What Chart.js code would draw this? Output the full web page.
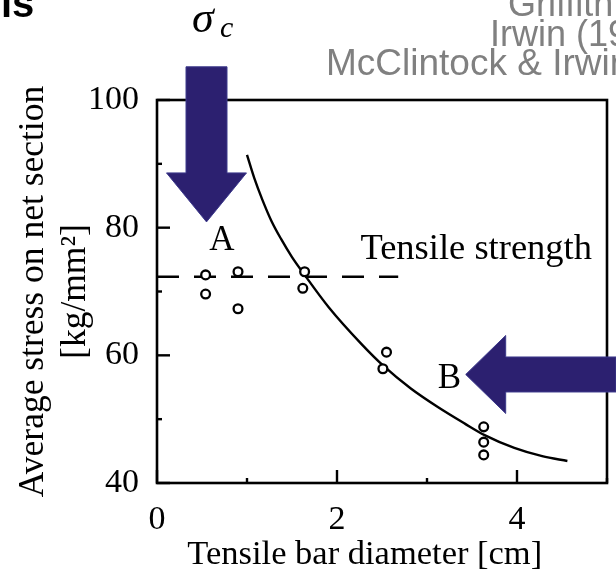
<!DOCTYPE html>
<html>
<head>
<meta charset="utf-8">
<script src="https://cdn.jsdelivr.net/npm/chart.js@4"></script>
<style>
  html, body { margin: 0; padding: 0; background: #ffffff; }
  #wrap { width: 616px; height: 582px; }
</style>
</head>
<body>
<div id="wrap"><canvas id="c" width="616" height="582"></canvas></div>
<script>
// ---- data ----
const pointX = [0.54, 0.54, 0.90, 0.90, 1.64, 1.62, 2.55, 2.51, 3.63, 3.63, 3.63];
const pointY = [72.6, 69.6, 73.1, 67.3, 73.1, 70.5, 60.5, 57.9, 48.8, 46.4, 44.4];
const curveX = [1.00, 1.08, 1.17, 1.27, 1.38, 1.50, 1.63, 1.91, 2.27, 2.52, 2.82, 3.12, 3.42, 3.64, 3.97, 4.28, 4.56];
const curveY = [91.4, 87.8, 84.4, 81.1, 78.2, 75.4, 72.8, 67.5, 61.8, 58.3, 54.8, 51.9, 49.3, 47.5, 45.5, 44.2, 43.45];
const tensileX = [0, 2.68];
const tensileY = [72.3, 72.3];
const xLabeled = [0, 2, 4];
const yLabeled = [40, 60, 80, 100];
const xTitle = 'Tensile bar diameter [cm]';
const yTitle = ['Average stress on net section', '[kg/mm\u00B2]'];

const SERIF = '"Liberation Serif", "Times New Roman", serif';
const SANS = '"Liberation Sans", Arial, sans-serif';
const ARROW = '#2c2070';

const toXY = (xs, ys) => xs.map((x, i) => ({ x: x, y: ys[i] }));

function arrow(ctx, x0, y0, x1, y1, shaftHalf, headHalf, headLen) {
  const dx = x1 - x0, dy = y1 - y0;
  const L = Math.hypot(dx, dy);
  const ux = dx / L, uy = dy / L, nx = -uy, ny = ux;
  const bx = x1 - ux * headLen, by = y1 - uy * headLen;
  ctx.beginPath();
  ctx.moveTo(x0 + nx * shaftHalf, y0 + ny * shaftHalf);
  ctx.lineTo(bx + nx * shaftHalf, by + ny * shaftHalf);
  ctx.lineTo(bx + nx * headHalf, by + ny * headHalf);
  ctx.lineTo(x1, y1);
  ctx.lineTo(bx - nx * headHalf, by - ny * headHalf);
  ctx.lineTo(bx - nx * shaftHalf, by - ny * shaftHalf);
  ctx.lineTo(x0 - nx * shaftHalf, y0 - ny * shaftHalf);
  ctx.closePath();
  ctx.fillStyle = ARROW;
  ctx.fill();
  ctx.lineWidth = 1;
  ctx.strokeStyle = '#3d3a8c';
  ctx.stroke();
}

const framePlugin = {
  id: 'frame',
  beforeDatasetsDraw(chart) {
    const { ctx, chartArea: a, scales } = chart;
    ctx.save();
    ctx.strokeStyle = '#000';
    ctx.lineWidth = 2.6;
    ctx.strokeRect(a.left, a.top, a.right - a.left, a.bottom - a.top);
    ctx.lineWidth = 2.4;
    scales.x.ticks.forEach(t => {
      const px = scales.x.getPixelForValue(t.value);
      const len = xLabeled.includes(t.value) ? 13 : 5;
      ctx.beginPath(); ctx.moveTo(px, a.bottom); ctx.lineTo(px, a.bottom - len); ctx.stroke();
    });
    scales.y.ticks.forEach(t => {
      const py = scales.y.getPixelForValue(t.value);
      const len = yLabeled.includes(t.value) ? 13 : 5;
      ctx.beginPath(); ctx.moveTo(a.left, py); ctx.lineTo(a.left + len, py); ctx.stroke();
    });
    ctx.restore();
  },
  afterDraw(chart) {
    const { ctx, scales } = chart;
    const X = v => scales.x.getPixelForValue(v);
    const Y = v => scales.y.getPixelForValue(v);
    ctx.save();
    // arrows
    arrow(ctx, X(0.55), Y(105.2), X(0.55), Y(80.9), 20.5, 40, 49);
    arrow(ctx, X(5.10), Y(57.0), X(3.43), Y(57.0), 17.5, 39, 40);
    // annotations
    ctx.fillStyle = '#000';
    ctx.textBaseline = 'middle';
    ctx.textAlign = 'center';
    ctx.font = '35px ' + SERIF;
    ctx.fillText('A', X(0.72), Y(77.9));
    ctx.fillText('B', X(3.25), Y(56.4));
    ctx.textAlign = 'left';
    ctx.font = '36.5px ' + SERIF;
    ctx.fillText('Tensile strength', X(2.26), Y(76.6));
    // sigma_c
    ctx.textBaseline = 'alphabetic';
    ctx.font = 'italic 44px ' + SERIF;
    ctx.fillText('\u03C3', 192, 32);
    ctx.font = 'italic 30px ' + SERIF;
    ctx.fillText('c', 220, 37);
    // cropped slide texts
    ctx.font = 'bold 40px ' + SANS;
    ctx.fillText('ls', 1, 17);
    ctx.fillStyle = '#808080';
    ctx.font = '36px ' + SANS;
    ctx.fillText('Griffith (1921)', 508, 16);
    ctx.fillText('Irwin (1957)', 490, 46);
    ctx.font = '37px ' + SANS;
    ctx.fillText('McClintock & Irwin (1965)', 326, 75);
    ctx.restore();
  }
};

new Chart(document.getElementById('c'), {
  data: {
    datasets: [
      {
        type: 'scatter',
        data: toXY(pointX, pointY),
        pointRadius: 4.4,
        pointBorderWidth: 2.3,
        pointBackgroundColor: '#ffffff',
        pointBorderColor: '#000000',
        showLine: false
      },
      {
        type: 'line',
        data: toXY(curveX, curveY),
        borderColor: '#000000',
        borderWidth: 2.4,
        pointRadius: 0,
        cubicInterpolationMode: 'monotone',
        fill: false
      },
      {
        type: 'line',
        data: toXY(tensileX, tensileY),
        borderColor: '#000000',
        borderWidth: 2.4,
        borderDash: [22, 15],
        pointRadius: 0,
        fill: false
      }
    ]
  },
  options: {
    responsive: false,
    animation: false,
    devicePixelRatio: 1,
    layout: { padding: { top: 100, right: 6, left: 0, bottom: 0 } },
    plugins: { legend: { display: false }, tooltip: { enabled: false } },
    scales: {
      x: {
        type: 'linear', min: 0, max: 5,
        grid: { display: false },
        border: { display: false },
        ticks: {
          stepSize: 1, autoSkip: false, maxRotation: 0, padding: 9,
          color: '#000', font: { family: SERIF, size: 34 },
          callback: v => xLabeled.includes(v) ? String(v) : ''
        },
        title: {
          display: true, text: xTitle + '\u00A0\u00A0\u00A0\u00A0', color: '#000',
          font: { family: SERIF, size: 34.5 }, padding: { top: 0, bottom: 6 }
        },
        afterFit: s => { s.height = 99; }
      },
      y: {
        type: 'linear', min: 40, max: 100,
        grid: { display: false },
        border: { display: false },
        ticks: {
          stepSize: 10, autoSkip: false, padding: 10,
          color: '#000', font: { family: SERIF, size: 34 },
          callback: v => yLabeled.includes(v) ? String(v) : ''
        },
        title: {
          display: true, text: yTitle, color: '#000',
          font: { family: SERIF, size: 35.5, lineHeight: 1.2 }, padding: { top: 12, bottom: 0 }
        },
        afterFit: s => { s.width = 157; }
      }
    }
  },
  plugins: [framePlugin]
});
</script>
</body>
</html>
